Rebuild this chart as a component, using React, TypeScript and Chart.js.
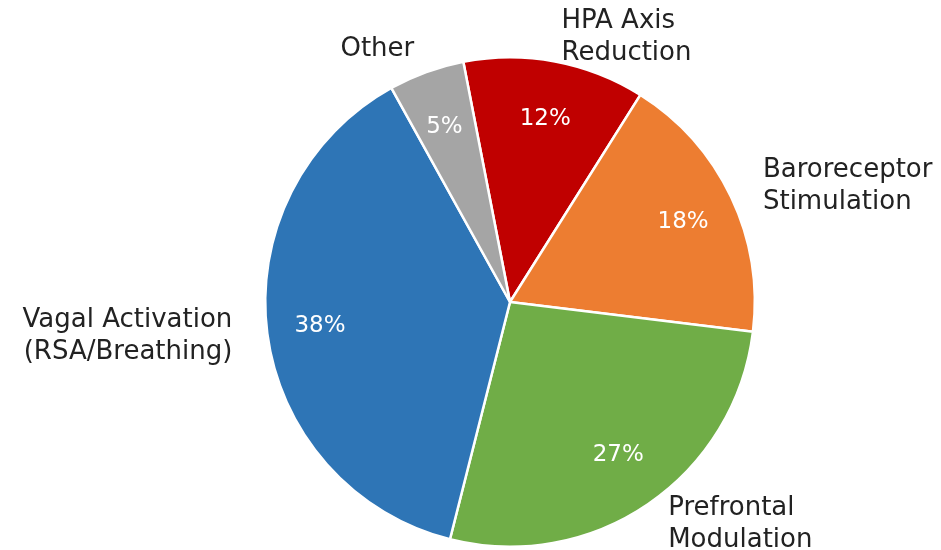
import React, { useEffect, useRef } from "react";
import { Chart, registerables } from "chart.js";

Chart.register(...registerables);

const categories: string[][] = [
  ["HPA Axis", "Reduction"],
  ["Baroreceptor", "Stimulation"],
  ["Prefrontal", "Modulation"],
  ["Vagal Activation", "(RSA/Breathing)"],
  ["Other"],
];
const shares: number[] = [12, 18, 27, 38, 5];
const sliceColors: string[] = ["#C00000", "#ED7D31", "#70AD47", "#2E75B6", "#A5A5A5"];

const FONT = "'DejaVu Sans', 'Liberation Sans', sans-serif";

const labelPlugin = {
  id: "pieLabels",
  afterDatasetsDraw(chart: any) {
    const ctx = chart.ctx as CanvasRenderingContext2D;
    const meta = chart.getDatasetMeta(0);
    const total = shares.reduce((a, b) => a + b, 0);
    meta.data.forEach((arc: any, i: number) => {
      const p = arc.getProps(["x", "y", "startAngle", "endAngle", "outerRadius"], true);
      const mid = (p.startAngle + p.endAngle) / 2;
      const cos = Math.cos(mid);
      const sin = Math.sin(mid);
      // percentage
      ctx.save();
      ctx.font = `23px ${FONT}`;
      ctx.fillStyle = "#ffffff";
      ctx.textAlign = "center";
      ctx.textBaseline = "middle";
      const pr = p.outerRadius * 0.76;
      ctx.fillText(`${Math.round((shares[i] / total) * 100)}%`, p.x + cos * pr * 1.03, p.y + sin * pr);
      // outer label
      ctx.font = `26px ${FONT}`;
      ctx.fillStyle = "#222222";
      const lr = p.outerRadius * 1.1;
      const lx = p.x + cos * lr * 1.04;
      const ly = p.y + sin * lr;
      ctx.textAlign = cos > 0 ? "left" : "right";
      const lines = categories[i];
      const lh = 32;
      const startY = ly - ((lines.length - 1) * lh) / 2;
      lines.forEach((ln, k) => ctx.fillText(ln, lx, startY + k * lh));
      ctx.restore();
    });
  },
};

export default function App() {
  const ref = useRef<HTMLCanvasElement | null>(null);
  useEffect(() => {
    if (!ref.current) return;
    const chart = new Chart(ref.current, {
      type: "pie",
      data: {
        labels: categories.map((c) => c.join(" ")),
        datasets: [
          {
            data: shares,
            backgroundColor: sliceColors,
            borderColor: "#ffffff",
            borderWidth: 2.5,
          },
        ],
      },
      options: {
        responsive: false,
        animation: false,
        rotation: -11,
        layout: { padding: { left: 264, right: 185, top: 56, bottom: 2 } },
        plugins: {
          legend: { display: false },
          tooltip: { enabled: false },
        },
      },
      plugins: [labelPlugin],
    });
    return () => chart.destroy();
  }, []);
  return (
    <div style={{ position: "fixed", left: 0, top: 0, width: 941, height: 550, background: "#fff" }}>
      <canvas ref={ref} width={941} height={550} />
    </div>
  );
}
